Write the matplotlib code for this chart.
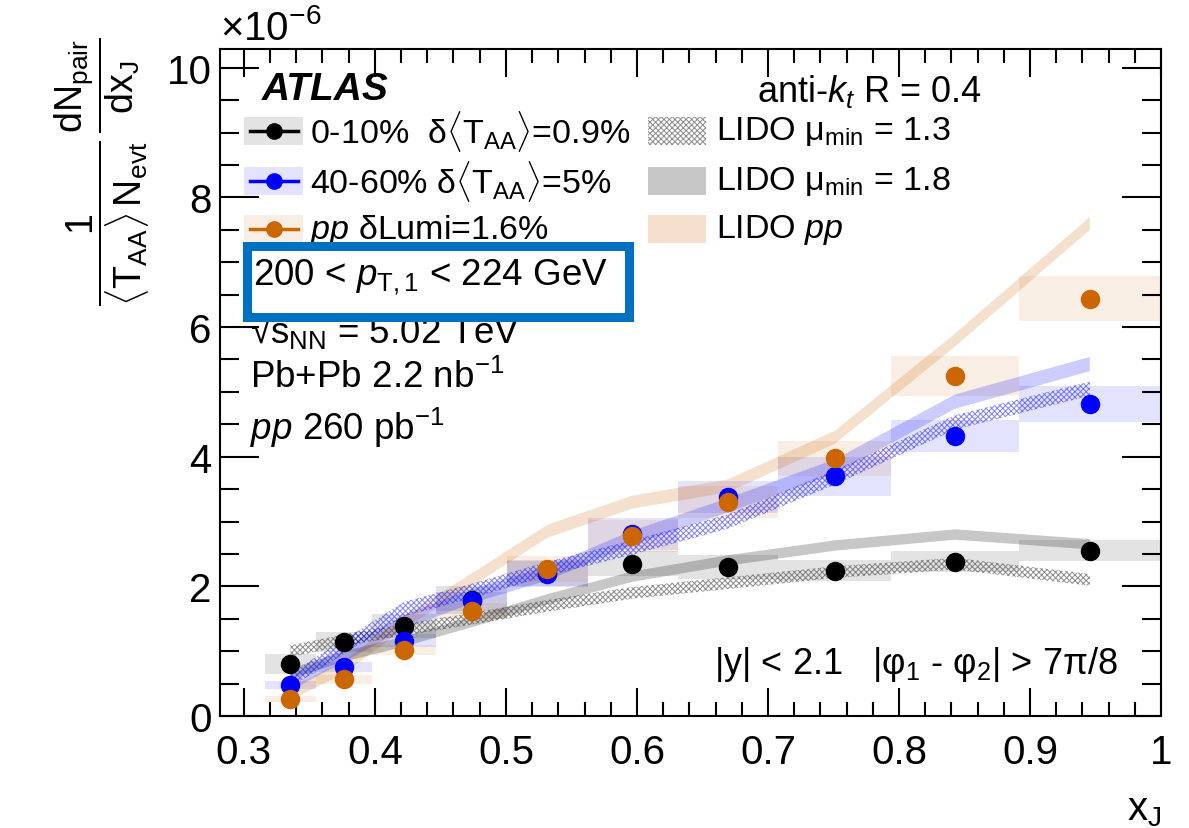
import numpy as np
import matplotlib
matplotlib.use('Agg')
import matplotlib.pyplot as plt
from matplotlib.patches import Rectangle
from matplotlib.ticker import MultipleLocator, FormatStrFormatter

plt.rcParams['font.family'] = ['Liberation Sans', 'DejaVu Sans']
plt.rcParams['mathtext.fontset'] = 'custom'
plt.rcParams['mathtext.rm'] = 'Liberation Sans'
plt.rcParams['mathtext.it'] = 'Liberation Sans:italic'
plt.rcParams['mathtext.bf'] = 'Liberation Sans:bold'
plt.rcParams['hatch.linewidth'] = 0.7

# x_J bins (log spaced) and bin centres
xj_edges = [0.3162, 0.3548, 0.3981, 0.4467, 0.5012, 0.5623, 0.6310, 0.7079, 0.7943, 0.8913, 1.0]
xj_center = [0.3355, 0.3765, 0.4224, 0.4740, 0.5317, 0.5966, 0.6694, 0.7511, 0.8428, 0.9457]

# data, in units of 1e-6
cent_0_10 = [0.80, 1.14, 1.39, 1.79, 2.20, 2.35, 2.30, 2.24, 2.38, 2.55]
cent_0_10_sys = [0.15, 0.15, 0.18, 0.22, 0.20, 0.19, 0.18, 0.16, 0.16, 0.16]
cent_40_60 = [0.48, 0.76, 1.16, 1.77, 2.19, 2.81, 3.38, 3.70, 4.32, 4.81]
cent_40_60_sys = [0.06, 0.08, 0.10, 0.15, 0.20, 0.25, 0.25, 0.30, 0.25, 0.28]
pp = [0.26, 0.57, 1.02, 1.62, 2.27, 2.78, 3.30, 3.98, 5.25, 6.44]
pp_sys = [0.05, 0.07, 0.08, 0.12, 0.20, 0.25, 0.25, 0.27, 0.31, 0.35]

# LIDO predictions
lido13_0_10 = [1.00, 1.17, 1.33, 1.50, 1.70, 1.90, 2.05, 2.22, 2.35, 2.10]
lido18_0_10 = [0.65, 0.92, 1.15, 1.45, 1.80, 2.15, 2.40, 2.63, 2.80, 2.65]
lido13_40_60 = [0.55, 1.07, 1.65, 1.93, 2.27, 2.60, 3.00, 3.68, 4.53, 5.05]
lido18_40_60 = [0.50, 0.95, 1.45, 1.85, 2.20, 2.75, 3.25, 3.85, 4.85, 5.43]
lido_pp = [0.35, 0.75, 1.45, 2.10, 2.85, 3.30, 3.55, 4.30, 5.80, 7.60]

x_ticks = [0.3, 0.4, 0.5, 0.6, 0.7, 0.8, 0.9, 1.0]
y_ticks = [0, 2, 4, 6, 8, 10]

ORANGE = '#cc6600'
BLUE = '#0000ff'

fig = plt.figure(figsize=(11.89, 8.29), dpi=100)
ax = fig.add_axes([220/1189, 1-717/829, 941/1189, 667/829])
ax.set_xlim(0.2818, 1.0)
ax.set_ylim(0, 10.29)


def ax_xy(px, py):
    return ((px-220)/941, (717-py)/667)


def sys_boxes(y, err, color, alpha):
    for i in range(len(y)):
        ax.add_patch(Rectangle((xj_edges[i], y[i]-err[i]), xj_edges[i+1]-xj_edges[i], 2*err[i],
                               facecolor=color, alpha=alpha, edgecolor='none', zorder=1))


def band(y, w, color, alpha, hatch=None):
    y = np.array(y)
    if hatch:
        ax.fill_between(xj_center, y-w, y+w, facecolor='none', edgecolor=color, alpha=alpha,
                        hatch=hatch, linewidth=0, zorder=2)
    else:
        ax.fill_between(xj_center, y-w, y+w, facecolor=color, alpha=alpha, linewidth=0, zorder=2)


sys_boxes(cent_0_10, cent_0_10_sys, 'black', 0.11)
sys_boxes(cent_40_60, cent_40_60_sys, BLUE, 0.11)
sys_boxes(pp, pp_sys, ORANGE, 0.11)

band(lido_pp, 0.10, ORANGE, 0.2)
band(lido18_0_10, 0.08, 'black', 0.22)
band(lido18_40_60, 0.11, BLUE, 0.2)
band(lido13_0_10, 0.09, '#404040', 0.6, hatch='xxxxxx')
band(lido13_40_60, 0.11, BLUE, 0.5, hatch='xxxxxx')

ax.plot(xj_center, cent_0_10, 'o', color='black', markersize=13, zorder=5)
ax.plot(xj_center, cent_40_60, 'o', color=BLUE, markersize=13, zorder=5)
ax.plot(xj_center, pp, 'o', color=ORANGE, markersize=13, zorder=5)

# axes style (ROOT like)
ax.set_xticks(x_ticks)
ax.set_yticks(y_ticks)
ax.xaxis.set_minor_locator(MultipleLocator(0.02))
ax.yaxis.set_minor_locator(MultipleLocator(0.5))
ax.xaxis.set_major_formatter(FormatStrFormatter('%g'))
ax.tick_params(direction='in', top=True, right=True, which='both', width=1.5, labelsize=29)
ax.tick_params(axis='x', which='major', length=20, pad=12)
ax.tick_params(axis='x', which='minor', length=10)
ax.tick_params(axis='y', which='major', length=28, pad=6)
ax.tick_params(axis='y', which='minor', length=14)
for s in ax.spines.values():
    s.set_linewidth(1.5)

ax.text(*ax_xy(220, 28), r'$\times$10$^{-6}$', transform=ax.transAxes, fontsize=29, va='center', ha='left')
ax.set_xlabel(r'x$_{\mathrm{J}}$', loc='right', fontsize=29, labelpad=14)
fig.text(102/1189, 1-172/829,
         r'$\dfrac{1}{\langle\mathrm{T}_{\mathrm{AA}}\rangle\,\mathrm{N}_{\mathrm{evt}}}\,\dfrac{\mathrm{dN}_{\mathrm{pair}}}{\mathrm{dx}_{\mathrm{J}}}$',
         rotation=90, fontsize=27, ha='center', va='center')

# labels
ax.text(*ax_xy(262, 90), 'ATLAS', transform=ax.transAxes, fontsize=28, fontweight='bold', fontstyle='italic',
        va='center')
ax.text(*ax_xy(982, 92), r'anti-$k_{t}$ R = 0.4', transform=ax.transAxes, fontsize=26, va='center', ha='right')

# legend
rows = [132, 182, 230]
left_items = [('black', r'0-10%  δ$\langle$T$_{\mathrm{AA}}\rangle$=0.9%'),
              (BLUE, r'40-60% δ$\langle$T$_{\mathrm{AA}}\rangle$=5%'),
              (ORANGE, r'$pp$ δLumi=1.6%')]
for py, (c, lab) in zip(rows, left_items):
    x0, y0 = ax_xy(244, py+14)
    x1, y1 = ax_xy(303, py-14)
    ax.add_patch(Rectangle((x0, y0), x1-x0, y1-y0, transform=ax.transAxes, facecolor=c, alpha=0.11,
                           edgecolor='none'))
    xa, ya = ax_xy(250, py)
    xb, _ = ax_xy(298, py)
    ax.plot([xa, xb], [ya, ya], color=c, lw=2.5, transform=ax.transAxes)
    ax.plot([(xa+xb)/2], [ya], 'o', color=c, markersize=11, transform=ax.transAxes)
    ax.text(*ax_xy(310, py), lab, transform=ax.transAxes, fontsize=24.5, va='center')

right_items = [('#404040', 0.6, 'xxxxxx', r'LIDO μ$_{\mathrm{min}}$ = 1.3'),
               ('black', 0.22, None, r'LIDO μ$_{\mathrm{min}}$ = 1.8'),
               (ORANGE, 0.2, None, r'LIDO $pp$')]
for py, (c, a, h, lab) in zip(rows, right_items):
    x0, y0 = ax_xy(648, py+14)
    x1, y1 = ax_xy(706, py-14)
    if h:
        ax.add_patch(Rectangle((x0, y0), x1-x0, y1-y0, transform=ax.transAxes, facecolor='none',
                               edgecolor=c, alpha=a, hatch=h, linewidth=0))
    else:
        ax.add_patch(Rectangle((x0, y0), x1-x0, y1-y0, transform=ax.transAxes, facecolor=c, alpha=a,
                               edgecolor='none'))
    ax.text(*ax_xy(716, py), lab, transform=ax.transAxes, fontsize=24.5, va='center')

# highlighted pT range
bx0, by0 = ax_xy(247, 318)
bx1, by1 = ax_xy(629, 247)
ax.add_patch(Rectangle((bx0, by0), bx1-bx0, by1-by0, transform=ax.transAxes, facecolor='white',
                       edgecolor='#0070c0', linewidth=6.5, zorder=6))
ax.text(*ax_xy(253, 277), r'200 < $p_{\mathrm{T,1}}$ < 224 GeV', transform=ax.transAxes, fontsize=26.5,
        va='center', zorder=7)
ax.text(*ax_xy(250, 331), r'√s$_{\mathrm{NN}}$ = 5.02 TeV', transform=ax.transAxes, fontsize=26.5, va='center')
ax.text(*ax_xy(250, 378), r'Pb+Pb 2.2 nb$^{\mathrm{-1}}$', transform=ax.transAxes, fontsize=26.5, va='center')
ax.text(*ax_xy(250, 428), r'$pp$ 260 pb$^{\mathrm{-1}}$', transform=ax.transAxes, fontsize=26.5, va='center')
ax.text(*ax_xy(1118, 665), r'|y| < 2.1   |φ$_{\mathrm{1}}$ - φ$_{\mathrm{2}}$| > 7π/8', transform=ax.transAxes,
        fontsize=26, va='center', ha='right')

fig.savefig('out.png', dpi=100)
